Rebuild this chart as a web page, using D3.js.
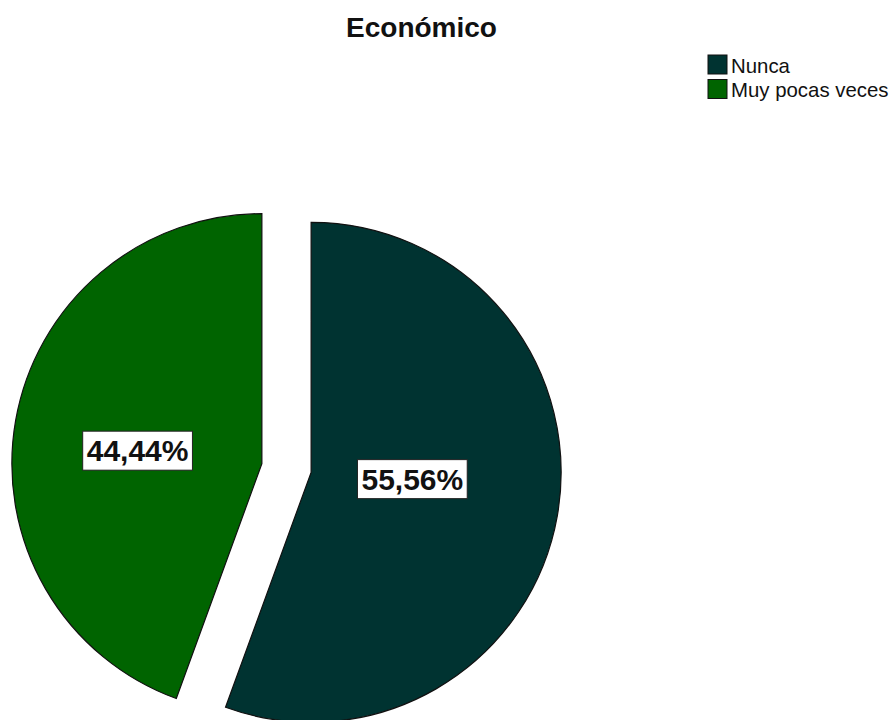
<!DOCTYPE html>
<html>
<head>
<meta charset="utf-8">
<script src="https://cdn.jsdelivr.net/npm/d3@7"></script>
<style>
  html, body { margin: 0; padding: 0; background: #fff; }
  svg { display: block; font-family: "Liberation Sans", Arial, sans-serif; }
</style>
</head>
<body>
<svg id="chart" width="890" height="720"></svg>
<script>
// Response categories and their shares (%)
const categories = ["Nunca", "Muy pocas veces"];
const percentages = [55.56, 44.44];
const labels = ["55,56%", "44,44%"];
const colors = ["#003331", "#006400"];
const title = "Económico";

const svg = d3.select("#chart");

const cx = 286.5, cy = 468;
const radius = 250;
const explode = 25;

const pie = d3.pie().sort(null).value(d => d.value);
const data = pie(categories.map((c, i) => ({ cat: c, value: percentages[i], label: labels[i], color: colors[i] })));
const arc = d3.arc().innerRadius(0).outerRadius(radius);

const g = svg.append("g").attr("transform", `translate(${cx},${cy})`);

const slices = g.selectAll("g.slice")
  .data(data)
  .join("g")
  .attr("class", "slice")
  .attr("transform", d => {
    const a = (d.startAngle + d.endAngle) / 2;
    return `translate(${Math.sin(a) * explode},${-Math.cos(a) * explode})`;
  });

slices.append("path")
  .attr("d", arc)
  .attr("fill", d => d.data.color)
  .attr("stroke", "#111")
  .attr("stroke-width", 1.2);

// Value labels in white boxes, placed near each sector's area centroid
slices.each(function (d) {
  const span = d.endAngle - d.startAngle;
  const dist = 1.07 * (4 * radius * Math.sin(span / 2)) / (3 * span);
  const a = (d.startAngle + d.endAngle) / 2 - 5 * Math.PI / 180;
  const x = Math.sin(a) * dist, y = -Math.cos(a) * dist;
  const lg = d3.select(this).append("g").attr("transform", `translate(${x + 1},${y - 2})`);
  const t = lg.append("text")
    .attr("text-anchor", "middle")
    .attr("dominant-baseline", "central")
    .attr("font-size", 30)
    .attr("font-weight", "bold")
    .attr("fill", "#111")
    .text(d.data.label);
  const bb = t.node().getBBox();
  lg.insert("rect", "text")
    .attr("x", bb.x - 4).attr("y", bb.y - 3)
    .attr("width", bb.width + 8).attr("height", bb.height + 6)
    .attr("fill", "#fff")
    .attr("stroke", "#222")
    .attr("stroke-width", 1);
});

// Title
svg.append("text")
  .attr("x", 421.5).attr("y", 37)
  .attr("text-anchor", "middle")
  .attr("font-size", 28)
  .attr("font-weight", "bold")
  .attr("fill", "#111")
  .text(title);

// Legend
const legend = svg.append("g").attr("transform", "translate(708,55)");
const items = legend.selectAll("g")
  .data(categories)
  .join("g")
  .attr("transform", (d, i) => `translate(0,${i * 24.5})`);
items.append("rect")
  .attr("width", 19).attr("height", 19)
  .attr("fill", (d, i) => colors[i])
  .attr("stroke", "#111").attr("stroke-width", 1);
items.append("text")
  .attr("x", 23).attr("y", 17.5)
  .attr("font-size", 20.4)
  .attr("fill", "#111")
  .text(d => d);
</script>
</body>
</html>
